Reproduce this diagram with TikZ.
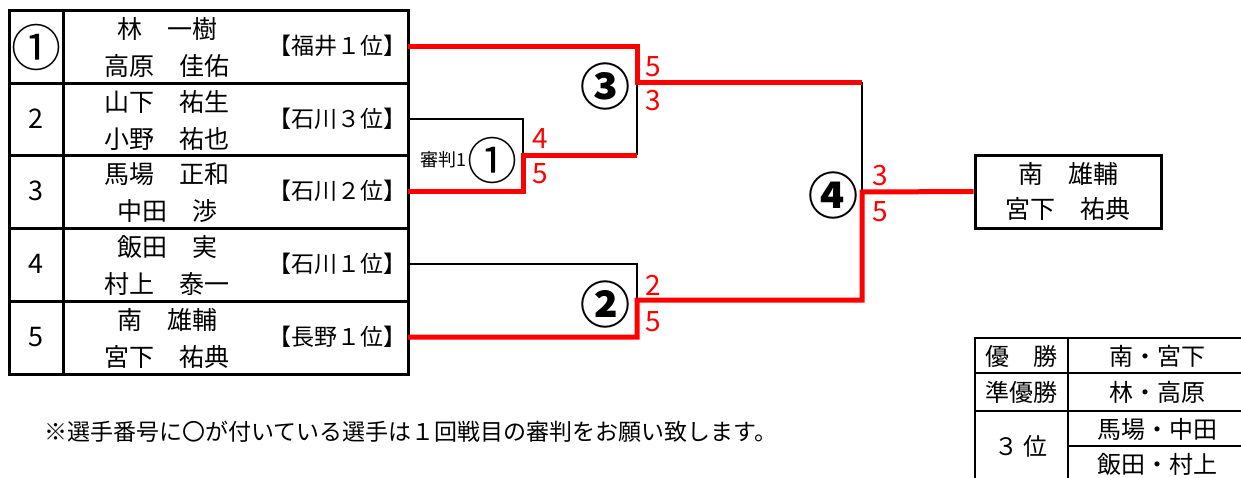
\documentclass[tikz,border=0pt]{standalone}
\usepackage{fontspec}
\setmainfont{Noto Sans CJK JP}
\usepackage{xcolor}
\definecolor{winred}{RGB}{255,0,0}
\usetikzlibrary{positioning}
\tikzset{%
    tableframe/.style={line width=3pt},
    thinframe/.style={line width=2pt},
    loser/.style={line width=2.2pt},
    winner/.style={line width=5pt,draw=winred},
    player/.style={inner sep=0pt,font=\fontsize{25}{30}\selectfont},
    pref/.style={inner sep=0pt,anchor=east,font=\fontsize{23}{28}\selectfont},
    seed/.style={inner sep=0pt,font=\fontsize{27}{30}\selectfont},
    circled/.style={inner sep=0pt,font=\fontsize{50}{54}\selectfont},
    matchno/.style={inner sep=0pt,font=\fontsize{50}{54}\selectfont\bfseries},
    judge/.style={inner sep=0pt,font=\fontsize{18}{22}\selectfont},
    score/.style={inner sep=0pt,text=winred,font=\fontsize{28}{32}\selectfont},
    champbox/.style={draw,line width=3pt,minimum width=186pt,minimum height=73pt,
        align=center,inner sep=0pt,font=\fontsize{25}{35}\selectfont},
    standing/.style={inner sep=0pt,font=\fontsize{24}{28}\selectfont},
    note/.style={inner sep=0pt,anchor=west,font=\fontsize{23}{28}\selectfont}
}
\begin{document}
\begin{tikzpicture}[x=1pt,y=-1pt]
    \useasboundingbox (0,0) rectangle (1241,477);
    \clip (0,0) rectangle (1241,477);
    % entry list
    \draw[tableframe] (9,10) rectangle (408,374);
    \draw[tableframe] (63,10) -- (63,374);
    \foreach \y in {83,155,228,301}
        \draw[tableframe] (9,\y) -- (408,\y);
    \foreach \i/\c/\first/\second/\club in {%
        1/46/林　一樹/高原　佳佑/【福井１位】,
        2/119/山下　祐生/小野　祐也/【石川３位】,
        3/191/馬場　正和/中田　渉/【石川２位】,
        4/264/飯田　実/村上　泰一/【石川１位】,
        5/337/南　雄輔/宮下　祐典/【長野１位】}
    {
        \node[player] (first\i) at (167,\c-17) {\first};
        \node[player] (second\i) at (167,\c+20) {\second};
        \node[pref] (club\i) at (407,\c) {\club};
        \coordinate (p\i) at (408,\c);
    }
    \node[circled] (seed1) at (36,47) {①};
    \foreach \i/\c in {2/119,3/191,4/264,5/337}
        \node[seed] (seed\i) at (36,\c) {\i};

    % bracket
    \coordinate (m1) at (523,155);
    \coordinate (m2) at (637,300);
    \coordinate (m3) at (637,82);
    \coordinate (m4) at (862,192);
    \node[champbox] (champ) at (1068,191.5) {南　雄輔\\宮下　祐典};

    \draw[loser] (p2) -| (m1);
    \draw[loser] (p4) -| (m2);
    \draw[loser] (m1 -| m3) -- (m3);
    \draw[loser] (m3 -| m4) -- (m4);
    \draw[winner] (p1) -| (m3) -- (m3 -| m4);
    \draw[winner] (p3) -| (m1) -- (m1 -| m3);
    \draw[winner] (p5) -| (m2) -| (m4) -- (champ.west);

    % match numbers and scores
    \node[circled] (mno1) at ([shift={(-31,5)}]m1) {①};
    \node[judge,left=0pt of mno1] (judge1) {審判1};
    \node[matchno] (mno2) at ([shift={(-32,4)}]m2) {②};
    \node[matchno] (mno3) at ([shift={(-32,4)}]m3) {③};
    \node[matchno] (mno4) at ([shift={(-29,3)}]m4) {④};
    \node[score] (s1a) at ([shift={(17,-16)}]m1) {4};
    \node[score] (s1b) at ([shift={(17,19)}]m1) {5};
    \node[score] (s2a) at ([shift={(16,-15)}]m2) {2};
    \node[score] (s2b) at ([shift={(16,22)}]m2) {5};
    \node[score] (s3a) at ([shift={(16,-15)}]m3) {5};
    \node[score] (s3b) at ([shift={(16,19)}]m3) {3};
    \node[score] (s4a) at ([shift={(18,-16)}]m4) {3};
    \node[score] (s4b) at ([shift={(18,20)}]m4) {5};

    % final standings
    \draw[thinframe] (975,338) rectangle (1246,482);
    \draw[thinframe] (1068,338) -- (1068,482);
    \draw[thinframe] (975,373) -- (1246,373);
    \draw[thinframe] (975,411) -- (1246,411);
    \draw[thinframe] (1068,446) -- (1246,446);
    \node[standing] (rank1) at (1021,356) {優　勝};
    \node[standing] (rank2) at (1021,392) {準優勝};
    \node[standing] (rank3) at (1021,446) {３ 位};
    \node[standing] (win1) at (1157,356) {南・宮下};
    \node[standing] (win2) at (1157,392) {林・高原};
    \node[standing] (win3) at (1157,429) {馬場・中田};
    \node[standing] (win4) at (1157,464) {飯田・村上};

    \node[note] (remark) at (44,432) {※選手番号に〇が付いている選手は１回戦目の審判をお願い致します。};
\end{tikzpicture}
\end{document}
